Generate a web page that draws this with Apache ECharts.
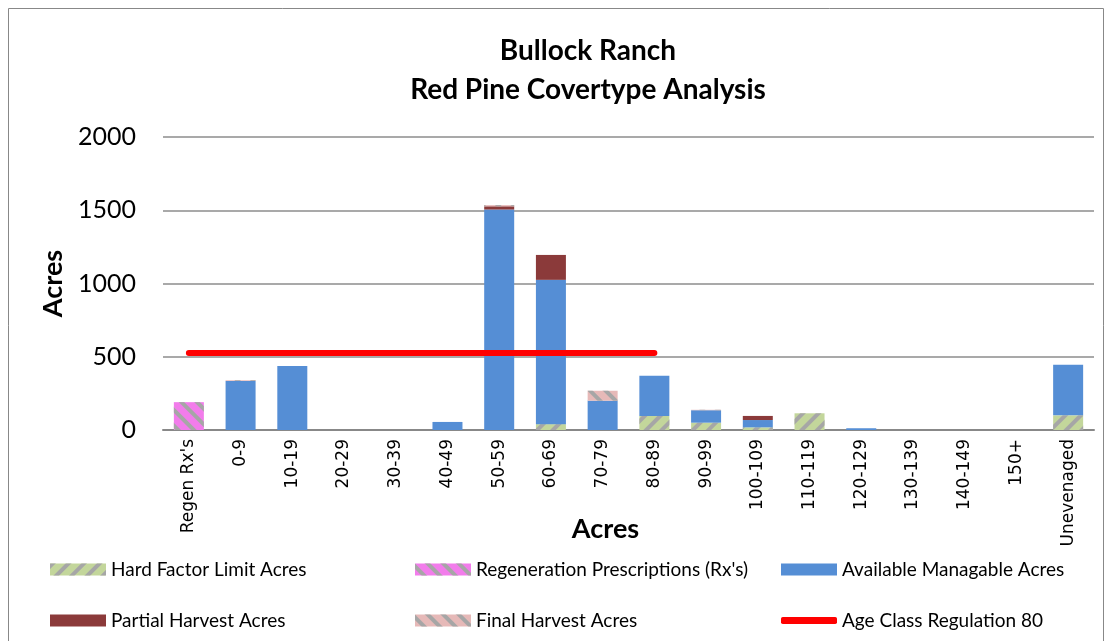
<!DOCTYPE html>
<html>
<head>
<meta charset="utf-8">
<style>
  html, body { margin: 0; padding: 0; background: #fff; }
  #chart { width: 1112px; height: 641px; }
</style>
<script src="https://cdn.jsdelivr.net/npm/echarts@6/dist/echarts.min.js"></script>
</head>
<body>
<div id="chart"></div>
<script>
  // age classes on the x axis
  const ageClasses = ["Regen Rx's", '0-9', '10-19', '20-29', '30-39', '40-49', '50-59', '60-69', '70-79',
    '80-89', '90-99', '100-109', '110-119', '120-129', '130-139', '140-149', '150+', 'Unevenaged']
  // acres per class
  const hardFactor = [0, 0, 0, 0, 0, 0, 0, 40, 0, 96, 50, 18, 114, 0, 0, 0, 0, 100]
  const regenRx = [190, 0, 0, 0, 0, 0, 0, 0, 0, 0, 0, 0, 0, 0, 0, 0, 0, 0]
  const available = [0, 335, 437, 0, 0, 55, 1505, 985, 200, 275, 85, 50, 0, 12, 0, 0, 0, 345]
  const partialHarvest = [0, 0, 0, 0, 0, 0, 22, 170, 0, 0, 0, 28, 0, 0, 0, 0, 0, 0]
  const finalHarvest = [0, 5, 0, 0, 0, 0, 8, 0, 68, 0, 3, 0, 0, 0, 0, 0, 0, 0]
  const ageRegulation = [525, 525, 525, 525, 525, 525, 525, 525, 525, 525, null, null, null, null, null, null, null, null]
  const yTicks = [0, 500, 1000, 1500, 2000]

  const chart = echarts.init(document.getElementById('chart'))

  const stripes = (rot) => ({
    symbol: 'rect',
    symbolSize: 1,
    color: '#a6a6a6',
    dashArrayX: [1, 0],
    dashArrayY: [4, 7],
    rotation: rot
  })

  const legendItem = (name, left, top, icon, h) => ({
    data: [name],
    left: left,
    top: top,
    icon: icon || 'rect',
    itemWidth: 56,
    itemHeight: h || 12,
    itemGap: 0,
    selectedMode: false,
    textStyle: { fontFamily: 'Lato', fontSize: 19, color: '#000', padding: [0, 0, 0, 0] }
  })

  chart.setOption({
    animation: false,
    textStyle: { fontFamily: 'Lato' },
    title: {
      text: 'Bullock Ranch\nRed Pine Covertype Analysis',
      left: 583,
      top: 26,
      textAlign: 'center',
      textStyle: { fontFamily: 'Lato', fontSize: 28, fontWeight: 'bold', color: '#000', lineHeight: 39 }
    },
    graphic: [{
      type: 'rect',
      shape: { x: 8.5, y: 8.5, width: 1095, height: 650 },
      style: { fill: 'none', stroke: '#888', lineWidth: 1 },
      silent: true
    }],
    legend: [
      legendItem('Hard Factor Limit Acres', 45, 555),
      legendItem("Regeneration Prescriptions (Rx's)", 410, 555),
      legendItem('Available Managable Acres', 776, 555),
      legendItem('Partial Harvest Acres', 45, 606),
      legendItem('Final Harvest Acres', 410, 606),
      legendItem('Age Class Regulation 80', 776, 606, 'roundRect', 7)
    ],
    grid: { left: 163, right: 18, top: 137, bottom: 211 },
    xAxis: {
      type: 'category',
      data: ageClasses,
      name: 'Acres',
      nameLocation: 'middle',
      nameGap: 86,
      nameMoveOverlap: false,
      nameTextStyle: { fontFamily: 'Lato', fontSize: 27, fontWeight: 'bold', color: '#000', padding: [0, 46, 0, 0] },
      axisLine: { lineStyle: { color: '#888', width: 2 } },
      axisTick: { show: false },
      axisLabel: { interval: 0, rotate: 90, fontFamily: 'DejaVu Sans', fontSize: 17, color: '#000', margin: 9 }
    },
    yAxis: {
      type: 'value',
      min: yTicks[0],
      max: yTicks[yTicks.length - 1],
      interval: 500,
      name: 'Acres',
      nameLocation: 'middle',
      nameGap: 96,
      nameTextStyle: { fontFamily: 'Lato', fontSize: 27, fontWeight: 'bold', color: '#000' },
      axisLine: { show: false },
      axisTick: { show: false },
      axisLabel: { fontFamily: 'Lato', fontSize: 25, color: '#000', margin: 27, formatter: (v) => String(v) },
      splitLine: { lineStyle: { color: '#8c8c8c', width: 1.5 } }
    },
    series: [
      {
        name: 'Hard Factor Limit Acres', type: 'bar', stack: 'acres', barWidth: 30, data: hardFactor,
        itemStyle: { color: '#c3d69b', decal: stripes(-Math.PI / 4) }
      },
      {
        name: "Regeneration Prescriptions (Rx's)", type: 'bar', stack: 'acres', data: regenRx,
        itemStyle: { color: '#f27ceb', decal: stripes(Math.PI / 4) }
      },
      {
        name: 'Available Managable Acres', type: 'bar', stack: 'acres', data: available,
        itemStyle: { color: '#558ed5' }
      },
      {
        name: 'Partial Harvest Acres', type: 'bar', stack: 'acres', data: partialHarvest,
        itemStyle: { color: '#8b3a3a' }
      },
      {
        name: 'Final Harvest Acres', type: 'bar', stack: 'acres', data: finalHarvest,
        itemStyle: { color: '#e6b9b8', decal: stripes(Math.PI / 4) }
      },
      {
        name: 'Age Class Regulation 80', type: 'line', data: ageRegulation,
        symbol: 'none', z: 5,
        itemStyle: { color: '#ff0000' },
        lineStyle: { color: '#ff0000', width: 6, cap: 'round' }
      }
    ]
  })
</script>
</body>
</html>
